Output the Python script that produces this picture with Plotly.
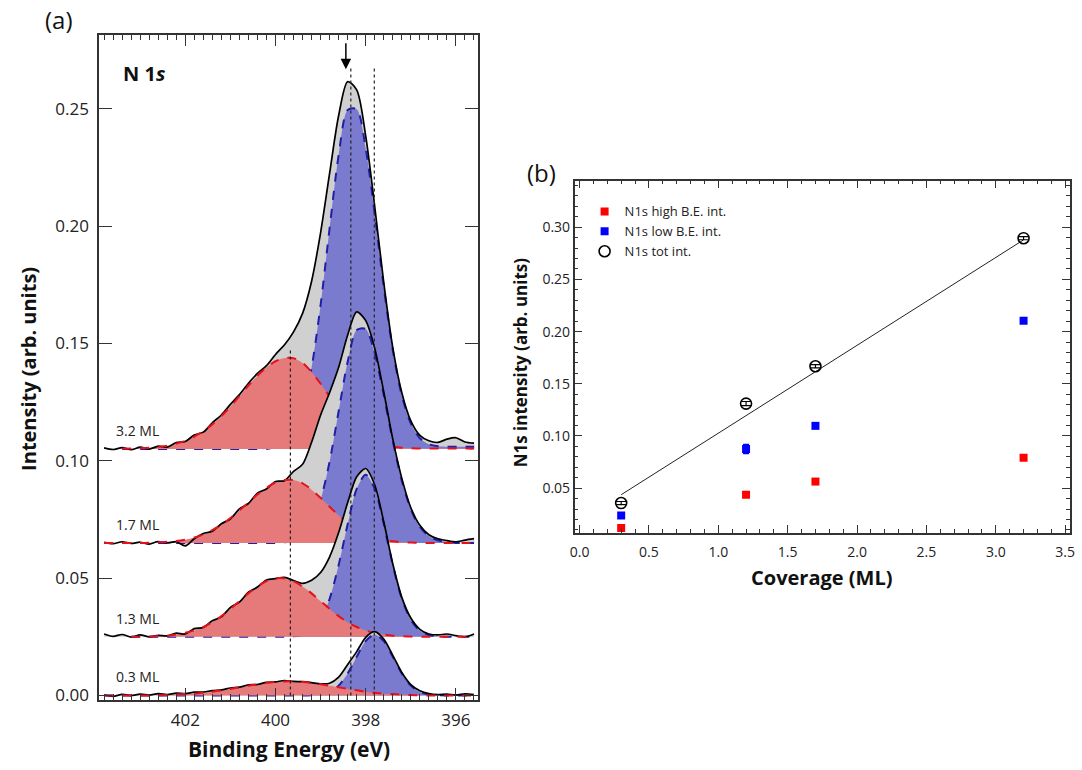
import plotly.graph_objects as go

# ---------------- Panel (a): N 1s spectra ----------------
energy = [403.8, 403.6, 403.4, 403.2, 403.0, 402.8, 402.6, 402.4, 402.2, 402.0,
          401.8, 401.6, 401.4, 401.2, 401.0, 400.8, 400.6, 400.4, 400.2, 400.0,
          399.8, 399.6, 399.4, 399.2, 399.0, 398.8, 398.6, 398.4, 398.2, 398.0,
          397.8, 397.6, 397.4, 397.2, 397.0, 396.8, 396.6, 396.4, 396.2, 396.0,
          395.8, 395.6]

spectrum_labels = ["3.2 ML", "1.7 ML", "1.3 ML", "0.3 ML"]
offsets = [0.105, 0.065, 0.025, 0.0]

data_32 = [0.1055, 0.1048, 0.1056, 0.1047, 0.1058, 0.1050, 0.1062, 0.1058, 0.1078, 0.1082,
           0.1110, 0.1122, 0.1162, 0.1195, 0.1240, 0.1282, 0.1330, 0.1372, 0.1405, 0.1453,
           0.1494, 0.1549, 0.1628, 0.1765, 0.1972, 0.2225, 0.2471, 0.2615, 0.2580, 0.2383,
           0.2083, 0.1759, 0.1482, 0.1290, 0.1170, 0.1108, 0.1085, 0.1078, 0.1092, 0.1098,
           0.1080, 0.1075]
high_32 = [None, None, 0.1051, 0.1052, 0.1053, 0.1055, 0.1059, 0.1064, 0.1073, 0.1085,
           0.1103, 0.1126, 0.1155, 0.1190, 0.1231, 0.1275, 0.1320, 0.1362, 0.1398, 0.1424,
           0.1438, 0.1437, 0.1417, 0.1378, 0.1328, 0.1273, 0.1219, 0.1171, 0.1132, 0.1103,
           0.1082, 0.1068, 0.1060, 0.1055, 0.1053, 0.1052, 0.1052, 0.1052, 0.1052, 0.1052,
           0.1052, 0.1052]
low_32 = [None, None, 0.105, 0.105, 0.105, 0.105, 0.105, 0.105, 0.105, 0.105,
          0.105, 0.105, 0.105, 0.105, 0.105, 0.105, 0.105, 0.105, 0.105, 0.1059,
          0.1076, 0.1122, 0.1221, 0.1397, 0.1664, 0.1992, 0.2302, 0.2494, 0.2498, 0.2330,
          0.2051, 0.1741, 0.1472, 0.1278, 0.1159, 0.1096, 0.1070, 0.1062, 0.1060, 0.1060,
          0.1060, 0.1060]

data_17 = [0.0652, 0.0647, 0.0655, 0.0648, 0.0653, 0.0645, 0.0656, 0.0650, 0.0655, 0.0637,
           0.0668, 0.0690, 0.0700, 0.0732, 0.0752, 0.0795, 0.0818, 0.0862, 0.0880, 0.0912,
           0.0915, 0.0955, 0.0985, 0.1079, 0.1195, 0.1291, 0.1398, 0.1536, 0.1634, 0.1597,
           0.1478, 0.1293, 0.1092, 0.0925, 0.0800, 0.0725, 0.0685, 0.0668, 0.0660, 0.0655,
           0.0662, 0.0668]
high_17 = [0.065, 0.065, 0.065, 0.065, 0.065, 0.0651, 0.0653, 0.0655, 0.0658, 0.0664,
           0.0673, 0.0686, 0.0705, 0.0727, 0.0756, 0.0788, 0.0822, 0.0856, 0.0885, 0.0907,
           0.0918, 0.0918, 0.0904, 0.0877, 0.0842, 0.0804, 0.0767, 0.0734, 0.0707, 0.0686,
           0.0672, 0.0663, 0.0657, 0.0653, 0.0652, 0.065, 0.065, 0.065, 0.065, 0.065,
           0.065, 0.065]
low_17 = [0.065, 0.065, 0.065, 0.065, 0.065, 0.065, 0.065, 0.065, 0.065, 0.065,
          0.065, 0.065, 0.065, 0.065, 0.065, 0.065, 0.065, 0.065, 0.065, 0.065,
          0.0653, 0.0660, 0.0681, 0.0732, 0.0833, 0.0997, 0.1211, 0.1422, 0.1557, 0.1561,
          0.1456, 0.1280, 0.1085, 0.0915, 0.0793, 0.0718, 0.0679, 0.0661, 0.0654, 0.065,
          0.065, 0.065]

data_13 = [0.0262, 0.0252, 0.0260, 0.0249, 0.0258, 0.0250, 0.0256, 0.0254, 0.0266, 0.0262,
           0.0285, 0.0290, 0.0318, 0.0335, 0.0375, 0.0398, 0.0440, 0.0462, 0.0492, 0.0498,
           0.0503, 0.0490, 0.0478, 0.0491, 0.0524, 0.0591, 0.0694, 0.0822, 0.0932, 0.0967,
           0.0897, 0.0740, 0.0561, 0.0418, 0.0330, 0.0282, 0.0262, 0.0258, 0.0262, 0.0255,
           0.0250, 0.0262]
high_13 = [None, None, None, 0.025, 0.025, 0.0251, 0.0253, 0.0255, 0.0260, 0.0267,
           0.0277, 0.0292, 0.0312, 0.0338, 0.0369, 0.0402, 0.0435, 0.0464, 0.0487, 0.0499,
           0.0499, 0.0487, 0.0464, 0.0435, 0.0402, 0.0369, 0.0338, 0.0312, 0.0292, 0.0277,
           0.0267, 0.0260, 0.0255, 0.0253, 0.0251, 0.025, 0.025, 0.025, 0.025, 0.025,
           0.025, 0.025]
low_13 = [None, None, None, 0.025, 0.025, 0.025, 0.025, 0.025, 0.025, 0.025,
          0.025, 0.025, 0.025, 0.025, 0.025, 0.025, 0.025, 0.025, 0.025, 0.025,
          0.025, 0.0252, 0.0258, 0.0276, 0.0322, 0.0412, 0.0556, 0.0730, 0.0880, 0.0940,
          0.0880, 0.0730, 0.0556, 0.0412, 0.0322, 0.0276, 0.0258, 0.0252, 0.025, 0.025,
          0.025, 0.025]

data_03 = [0.0003, -0.0004, 0.0005, 0.0000, 0.0006, 0.0002, 0.0008, 0.0004, 0.0010, 0.0008,
           0.0014, 0.0015, 0.0021, 0.0024, 0.0032, 0.0036, 0.0045, 0.0047, 0.0056, 0.0058,
           0.0064, 0.0060, 0.0059, 0.0055, 0.0050, 0.0052, 0.0078, 0.0132, 0.0187, 0.0248,
           0.0272, 0.0240, 0.0171, 0.0098, 0.0046, 0.0020, 0.0008, 0.0004, 0.0006, 0.0002,
           0.0007, 0.0004]
high_03 = [0.0, 0.0, 0.0, 0.0, 0.0, 0.0, 0.0001, 0.0002, 0.0004, 0.0006,
           0.0008, 0.0012, 0.0016, 0.0022, 0.0028, 0.0035, 0.0042, 0.0048, 0.0054, 0.0058,
           0.0060, 0.0060, 0.0058, 0.0054, 0.0048, 0.0042, 0.0035, 0.0028, 0.0022, 0.0016,
           0.0012, 0.0008, 0.0006, 0.0004, 0.0002, 0.0001, 0.0, 0.0, 0.0, 0.0,
           0.0, 0.0]
low_03 = [0.0, 0.0, 0.0, 0.0, 0.0, 0.0, 0.0, 0.0, 0.0, 0.0,
          0.0, 0.0, 0.0, 0.0, 0.0, 0.0, 0.0, 0.0, 0.0, 0.0,
          0.0, 0.0, 0.0, 0.0001, 0.0004, 0.0015, 0.0042, 0.0094, 0.0165, 0.0232,
          0.0260, 0.0232, 0.0165, 0.0094, 0.0042, 0.0015, 0.0004, 0.0001, 0.0, 0.0,
          0.0, 0.0]

spectra_total = [data_32, data_17, data_13, data_03]
spectra_high = [high_32, high_17, high_13, high_03]
spectra_low = [low_32, low_17, low_13, low_03]

# reference lines (eV) and their top intensities, and the arrow position
ref_lines_energy = [399.67, 398.33, 397.81]
ref_lines_top = [0.1476, 0.2674, 0.2674]
arrow_energy = 398.44
arrow_from, arrow_to = 0.2785, 0.2668

# ---------------- Panel (b): intensities vs coverage ----------------
coverage = [0.3, 1.2, 1.7, 3.2]
high_int = [0.0119, 0.0437, 0.0563, 0.0792]
low_int = [0.0237, 0.0875, 0.1097, 0.2103]
tot_int = [0.0357, 0.1310, 0.1668, 0.2895]
high_err = [0.0015, 0.0015, 0.0015, 0.0015]
low_err = [0.0015, 0.0040, 0.0015, 0.0015]
tot_err = [0.0015, 0.0020, 0.0015, 0.0015]
fit_x = [0.3, 3.2]
fit_y = [0.0437, 0.2879]

GREY = "#d0d0d0"
BLUE_FILL = "rgb(122,122,206)"
RED_FILL = "rgb(230,122,122)"
RED_LINE = "#e5121c"
BLUE_LINE = "#1f1fa8"
FONT = "Open Sans"
W, H = 1082, 770


def polygon(xs, ys, base):
    px = [x for x, y in zip(xs, ys) if y is not None]
    py = [y for y in ys if y is not None]
    return px + px[::-1], py + [base] * len(px)


fig = go.Figure()

for total, high, low, base in zip(spectra_total, spectra_high, spectra_low, offsets):
    gx, gy = polygon(energy, total, base)
    fig.add_trace(go.Scatter(x=gx, y=gy, fill="toself", fillcolor=GREY, mode="lines",
                             line=dict(width=0, shape="spline", smoothing=0.8),
                             hoverinfo="skip", showlegend=False, xaxis="x", yaxis="y"))
    bx, by = polygon(energy, low, base)
    fig.add_trace(go.Scatter(x=bx, y=by, fill="toself", fillcolor=BLUE_FILL, mode="lines",
                             line=dict(width=0, shape="spline", smoothing=0.8),
                             hoverinfo="skip", showlegend=False, xaxis="x", yaxis="y"))
    fig.add_trace(go.Scatter(x=energy, y=low, mode="lines",
                             line=dict(color=BLUE_LINE, width=2, dash="dash", shape="spline", smoothing=0.8),
                             connectgaps=False, showlegend=False, xaxis="x", yaxis="y"))
    rx, ry = polygon(energy, high, base)
    fig.add_trace(go.Scatter(x=rx, y=ry, fill="toself", fillcolor=RED_FILL, mode="lines",
                             line=dict(width=0, shape="spline", smoothing=0.8),
                             hoverinfo="skip", showlegend=False, xaxis="x", yaxis="y"))
    fig.add_trace(go.Scatter(x=energy, y=total, mode="lines",
                             line=dict(color="black", width=1.7, shape="spline", smoothing=0.8),
                             showlegend=False, xaxis="x", yaxis="y"))
    fig.add_trace(go.Scatter(x=energy, y=high, mode="lines",
                             line=dict(color=RED_LINE, width=2, dash="dash", shape="spline", smoothing=0.8),
                             showlegend=False, xaxis="x", yaxis="y"))

for e, top in zip(ref_lines_energy, ref_lines_top):
    fig.add_trace(go.Scatter(x=[e, e], y=[0.0, top], mode="lines",
                             line=dict(color="#222", width=1.2, dash="dot"),
                             showlegend=False, xaxis="x", yaxis="y"))

# ---- panel (b) traces
fig.add_trace(go.Scatter(x=fit_x, y=fit_y, mode="lines", line=dict(color="#222", width=1),
                         showlegend=False, xaxis="x2", yaxis="y2"))
fig.add_trace(go.Scatter(x=coverage, y=high_int, mode="markers", name="N1s high B.E. int.",
                         marker=dict(symbol="square", size=8, color="#ff0000"),
                         error_y=dict(type="data", array=high_err, color="#ff0000", thickness=1.2, width=3),
                         xaxis="x2", yaxis="y2"))
fig.add_trace(go.Scatter(x=coverage, y=low_int, mode="markers", name="N1s low B.E. int.",
                         marker=dict(symbol="square", size=8, color="#0000ff"),
                         error_y=dict(type="data", array=low_err, color="#0000ff", thickness=2, width=3),
                         xaxis="x2", yaxis="y2"))
fig.add_trace(go.Scatter(x=coverage, y=tot_int, mode="markers", name="N1s tot int.",
                         marker=dict(symbol="circle-open", size=11, color="black", line=dict(width=1.6)),
                         error_y=dict(type="data", array=tot_err, color="black", thickness=1.2, width=5),
                         xaxis="x2", yaxis="y2"))


def px_x(p):
    return p / W


def px_y(p):
    return 1 - p / H


def label(px, py, text, size, angle=0):
    return dict(x=px_x(px), y=px_y(py), xref="paper", yref="paper", text=text,
                xanchor="center", yanchor="middle", textangle=angle, showarrow=False,
                font=dict(family=FONT, size=size, color="#111"))


annotations = []
for lab, base in zip(spectrum_labels, offsets):
    annotations.append(dict(x=403.05, y=base + 0.008, xref="x", yref="y", text=lab,
                            xanchor="center", yanchor="middle",
                            showarrow=False, font=dict(family=FONT, size=14, color="#222")))
annotations.append(dict(x=arrow_energy, y=arrow_to, ax=arrow_energy, ay=arrow_from,
                        xref="x", yref="y", axref="x", ayref="y", text="", showarrow=True,
                        arrowhead=2, arrowsize=1.4, arrowwidth=1.5, arrowcolor="black"))
annotations += [
    label(55, 20, "(a)", 24),
    label(141, 74, "<b>N 1<i>s</i></b>", 20),
    label(23, 372, "<b>Intensity (arb. units)</b>", 20, -90),
    label(287, 755, "<b>Binding Energy (eV)</b>", 21),
    label(541, 174, "(b)", 24),
    label(520, 365, "<b>N1s intensity (arb. units)</b>", 17, -90),
    label(825, 582, "<b>Coverage (ML)</b>", 20),
]

axis_common = dict(showgrid=False, zeroline=False, showline=True, linecolor="#333", linewidth=1.5,
                   mirror="ticks", ticks="inside", tickcolor="#333")

fig.update_layout(
    width=W, height=H, margin=dict(l=0, r=0, t=0, b=0),
    paper_bgcolor="white", plot_bgcolor="white",
    font=dict(family=FONT, color="#222"),
    xaxis=dict(domain=[px_x(95), px_x(477)], range=[403.91, 395.52], tickmode="linear",
               tick0=396, dtick=2, ticklen=12, tickwidth=1.3, tickfont=dict(size=17, color="#222"),
               ticklabelstandoff=4,
               minor=dict(ticks="inside", dtick=0.2, tick0=0, ticklen=6, tickcolor="#333"),
               anchor="y", **axis_common),
    yaxis=dict(domain=[px_y(705.7), px_y(35)], range=[-0.002, 0.2815], tickmode="linear",
               tick0=0, dtick=0.05, tickformat=".2f", ticklen=13, tickwidth=1.3,
               ticklabelstandoff=5,
               tickfont=dict(size=17, color="#222"), anchor="x", **axis_common),
    xaxis2=dict(domain=[px_x(575), px_x(1075)], range=[-0.035, 3.535], tickmode="linear",
                tick0=0, dtick=0.5, tickformat=".1f", ticklen=8, tickwidth=1.2,
                tickfont=dict(size=14, color="#222"), ticklabelstandoff=6,
                minor=dict(ticks="inside", dtick=0.1, ticklen=4, tickcolor="#333"),
                anchor="y2", **axis_common),
    yaxis2=dict(domain=[px_y(537), px_y(182)], range=[0.0072, 0.3447], tickmode="linear",
                tick0=0, dtick=0.05, tickformat=".2f", ticklen=8, tickwidth=1.2,
                tickfont=dict(size=14, color="#222"),
                minor=dict(ticks="inside", dtick=0.01, ticklen=4, tickcolor="#333"),
                anchor="x2", **axis_common),
    legend=dict(x=px_x(585), y=px_y(198), xanchor="left", yanchor="top",
                bgcolor="rgba(0,0,0,0)", font=dict(family=FONT, size=13, color="#222"),
                itemsizing="trace"),
    annotations=annotations,
)

fig.write_html("out.html")
